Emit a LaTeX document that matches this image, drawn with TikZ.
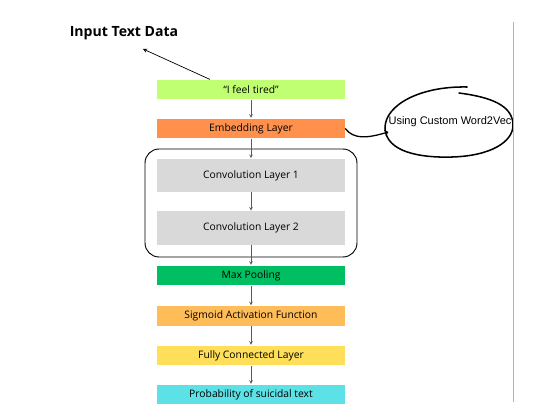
\documentclass[tikz,border=0pt]{standalone}
\usepackage{fontspec}
\setmainfont{Open Sans}
\newfontfamily\handfont{Liberation Sans}
\usetikzlibrary{calc}
\usetikzlibrary{shapes}
\usetikzlibrary{arrows}
\usetikzlibrary{positioning}

\definecolor{inputgreen}{HTML}{C1FF72}
\definecolor{embedorange}{HTML}{FF914D}
\definecolor{convgray}{HTML}{D9D9D9}
\definecolor{poolgreen}{HTML}{00BF63}
\definecolor{sigmorange}{HTML}{FFBD59}
\definecolor{fcyellow}{HTML}{FFDE59}
\definecolor{probcyan}{HTML}{5CE1E6}

\begin{document}
\begin{tikzpicture}[x=0.03cm, y=-0.03cm,
  layer/.style={minimum width=5.64cm, minimum height=0.59cm, inner sep=0pt,
    font=\fontsize{8.8pt}{10pt}\selectfont},
  convlayer/.style={layer, fill=convgray, minimum height=0.99cm},
  link/.style={->, >=stealth, gray!70!black, line width=0.4pt, shorten >=0.5pt}]
\useasboundingbox (0,0) rectangle (547,420);

%title
\node[font=\fontsize{12pt}{14pt}\selectfont\bfseries] (title) at (124,33) {Input Text Data};
\coordinate (tip) at (143,49);

%layers
\node[layer, fill=inputgreen] (input) at (251,89.5) {``I feel tired''};
\node[layer, fill=embedorange] (embed) at (251,128.5) {Embedding Layer};
\node[convlayer] (conv1) at (251,175.5) {Convolution Layer 1};
\node[convlayer] (conv2) at (251,228) {Convolution Layer 2};
\node[layer, fill=poolgreen] (pool) at (251,275.5) {Max Pooling};
\node[layer, fill=sigmorange] (sigm) at (251,316) {Sigmoid Activation Function};
\node[layer, fill=fcyellow] (fc) at (251,355.5) {Fully Connected Layer};
\node[layer, fill=probcyan] (prob) at (251,394.5) {Probability of suicidal text};

%conv block
\draw[line width=0.8pt, rounded corners=12pt] (145,149) rectangle (357,257);

%links
\foreach \a/\b in {input/embed, embed/conv1, conv1/conv2, conv2/pool, pool/sigm, sigm/fc, fc/prob} {
\draw[link] (\a) -- (\b);
}
\draw[->, >=stealth, line width=0.6pt] ($(input.north)+(-41,0)$) -- (tip);

%word2vec bubble
\node[inner sep=0pt, font=\handfont\fontsize{9.4pt}{11pt}\selectfont] (w2v) at (450,122) {Using Custom Word2Vec};
\draw[line width=1.3pt, line cap=round] (467,87) .. controls (420,86) and (385,105) .. (385,128)
  .. controls (386,152) and (420,158) .. (452,157)
  .. controls (490,156) and (514,142) .. (513,124)
  .. controls (512,105) and (490,97) .. (459,93);
\draw[->, line width=1.1pt] (embed.east) .. controls (354,140) and (368,138) .. ($(w2v.west)+(0,10)$);

%side line
\draw[gray!60, line width=0.8pt] (513,22) -- (513,402);

\end{tikzpicture}
\end{document}
